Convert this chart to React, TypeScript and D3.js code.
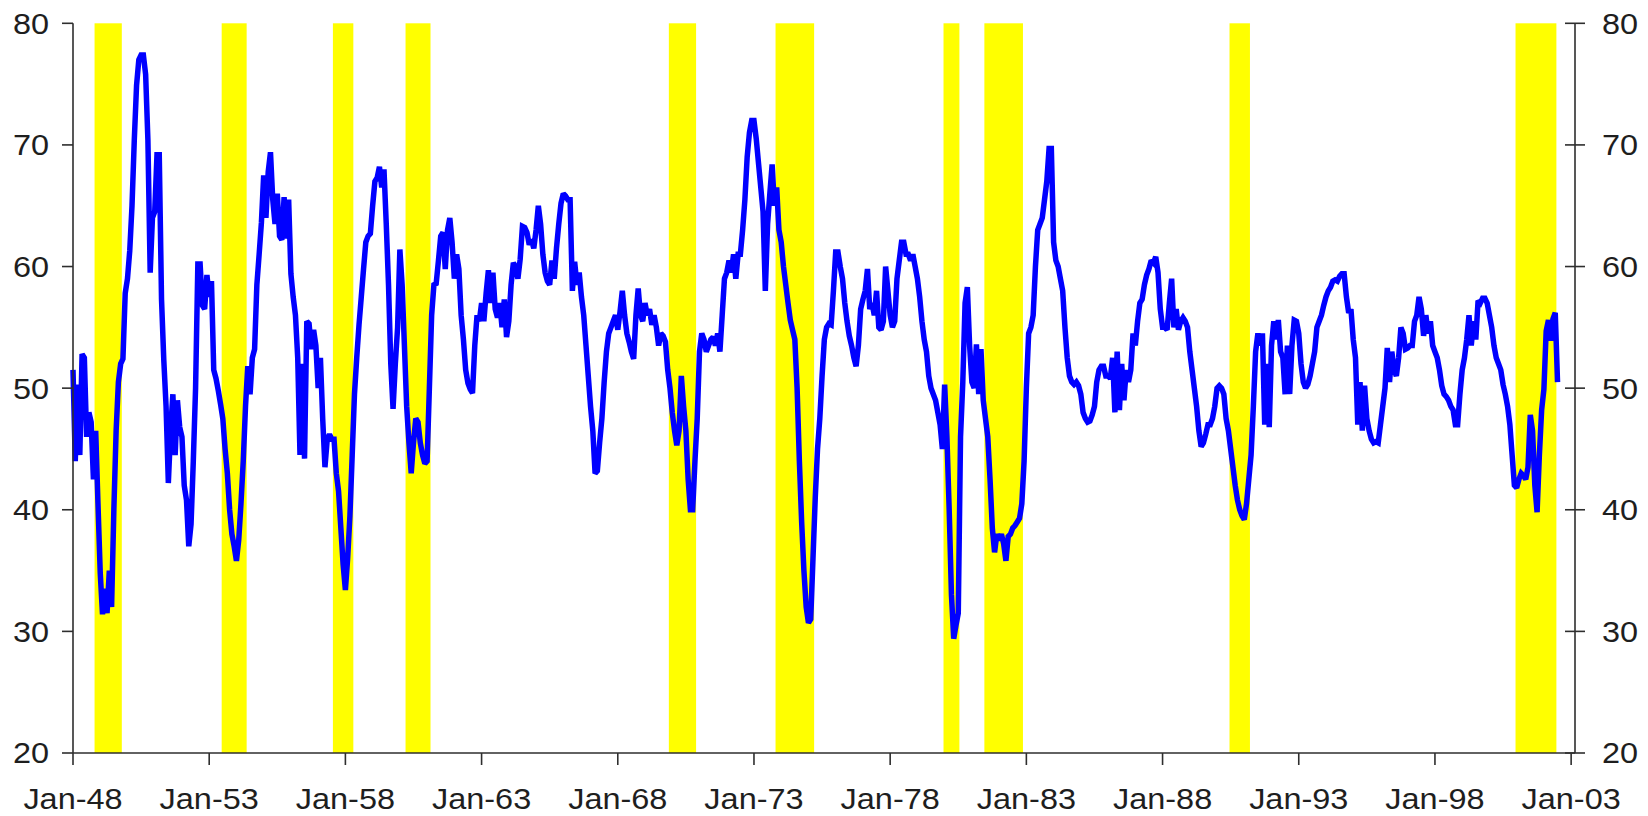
import React from "react";
import * as d3 from "d3";

const START_YEAR = 1948;

// Monthly index values (Jan of first year onward)
const pmi1948to1957 = [
  51.5, 44.0, 50.3, 44.5, 52.8, 52.5, 46.0, 48.0, 47.2, 42.5, 46.5, 40.5,
  34.8, 31.4, 33.5, 31.5, 35.0, 32.0, 40.0, 46.5, 50.5, 52.0, 52.4, 57.8,
  59.0, 61.3, 65.0, 70.4, 74.9, 77.0, 77.4, 77.4, 75.8, 70.4, 59.5, 64.0,
  64.5, 69.2, 69.2, 57.3, 52.3, 48.5, 42.2, 46.5, 49.5, 44.5, 49.0, 46.8,
  46.0, 42.0, 40.8, 37.0, 38.8, 44.0, 50.0, 60.2, 60.2, 56.8, 56.5, 59.3,
  57.5, 58.8, 51.5, 50.8, 49.8, 48.7, 47.5, 45.0, 43.0, 40.0, 38.0, 37.0,
  35.8, 37.5, 40.5, 44.0, 48.5, 51.8, 49.5, 52.5, 53.2, 58.5, 61.0, 63.6,
  67.5, 64.0, 67.8, 69.4, 65.5, 63.5, 66.0, 62.5, 62.2, 65.7, 62.3, 65.5,
  59.4, 57.5, 56.0, 52.5, 44.5, 52.0, 44.2, 55.5, 55.3, 53.2, 54.8, 53.5,
  50.0, 52.5, 47.5, 43.5, 45.8, 46.2, 45.8, 45.8, 43.0, 41.5, 38.5, 35.5,
];
const pmi1958to1967 = [
  33.4, 36.0, 39.5, 44.5, 49.5, 52.5, 55.2, 57.5, 59.8, 62.0, 62.5, 62.7,
  65.0, 67.0, 67.3, 68.2, 66.5, 68.0, 63.5, 58.5, 52.0, 48.3, 52.0, 55.0,
  61.4, 58.5, 53.5, 48.5, 45.5, 43.0, 45.5, 47.5, 47.2, 45.5, 44.5, 43.8,
  44.0, 50.0, 56.0, 58.5, 58.6, 60.5, 62.5, 62.8, 59.8, 63.0, 64.0, 62.0,
  59.0, 61.0, 59.8, 56.0, 54.0, 51.5, 50.4, 49.9, 49.6, 53.5, 56.0, 55.5,
  57.0, 55.5, 57.8, 59.7, 57.0, 59.5, 56.5, 55.8, 57.0, 55.0, 57.3, 54.2,
  55.5, 58.5, 60.3, 60.0, 59.0, 60.6, 63.3, 63.2, 62.8, 61.8, 62.2, 61.5,
  63.0, 65.0, 63.5, 61.0, 59.5, 58.8, 58.5, 60.5, 59.0, 61.5, 63.5, 65.2,
  66.0, 65.8, 65.5, 65.5, 58.0, 60.4, 58.5, 59.5, 57.5, 56.0, 53.5, 51.0,
  48.5, 46.5, 43.0, 43.2, 45.5, 47.5, 50.5, 53.0, 54.5, 55.0, 55.5, 56.0,
];
const pmi1968to1977 = [
  54.8, 56.3, 58.0, 56.0, 54.5, 53.8, 53.0, 52.4, 56.0, 58.2, 56.0, 55.5,
  57.0, 56.0, 56.5, 55.2, 56.0, 55.0, 53.5, 54.5, 54.3, 53.8, 51.5, 50.0,
  48.0, 46.5, 45.3, 46.5, 51.0, 48.5, 46.5, 42.5, 40.0, 40.0, 44.0, 47.5,
  53.0, 54.5, 54.0, 53.0, 53.5, 54.0, 54.2, 53.5, 54.5, 53.0, 56.0, 59.0,
  59.5, 60.5, 59.5, 61.0, 59.0, 61.0, 61.0, 63.0, 65.5, 69.0, 71.0, 72.0,
  72.0, 70.5, 68.5, 66.5, 64.5, 58.0, 63.5, 66.0, 68.4, 65.0, 66.5, 63.0,
  62.0, 60.0, 58.5, 57.0, 55.6, 54.8, 54.0, 50.0, 44.0, 39.0, 35.0, 32.0,
  30.7, 31.0, 36.0, 41.0, 45.0, 47.5, 51.0, 54.0, 55.0, 55.3, 55.2, 58.0,
  61.2, 61.2, 60.0, 59.0, 57.0, 55.5, 54.3, 53.5, 52.5, 51.8, 53.5, 56.5,
  57.3, 58.0, 59.8, 56.5, 57.0, 56.0, 58.0, 55.0, 54.8, 55.5, 60.0, 58.0,
];
const pmi1978to1987 = [
  56.0, 55.0, 55.5, 59.0, 60.5, 62.0, 62.0, 61.0, 61.0, 60.5, 61.0, 60.0,
  59.0, 57.5, 55.5, 54.0, 53.0, 51.0, 50.0, 49.5, 49.0, 48.0, 47.0, 45.0,
  50.3, 46.0, 40.0, 33.0, 29.4, 30.5, 31.5, 46.0, 50.5, 57.0, 58.3, 53.5,
  50.5, 50.0, 53.6, 49.5, 53.2, 49.0, 47.5, 46.0, 42.5, 38.5, 36.5, 38.0,
  37.5, 38.0, 37.2, 35.8, 37.8, 38.0, 38.5, 38.7, 39.0, 39.3, 40.5, 44.0,
  50.0, 54.5, 55.0, 56.0, 60.0, 63.0, 63.5, 64.0, 65.5, 67.0, 69.7, 69.7,
  62.0, 60.5, 60.0, 59.0, 58.0, 55.0, 52.5, 51.0, 50.5, 50.3, 50.5, 50.2,
  49.5, 48.0, 47.5, 47.2, 47.3, 47.8, 48.5, 50.5, 51.5, 51.8, 51.8, 51.0,
  51.0, 50.8, 52.5, 48.0, 53.0, 48.2, 52.0, 49.0, 51.5, 50.5, 51.5, 54.5,
  53.5, 55.5, 57.0, 57.3, 58.5, 59.3, 59.8, 60.5, 60.3, 60.8, 59.5, 56.5,
];
const pmi1988to1997 = [
  55.0, 55.0, 54.8, 57.0, 59.0, 55.0, 56.5, 54.8, 55.5, 55.8, 55.5, 55.0,
  53.0, 51.5, 50.0, 48.5, 46.5, 45.2, 45.5, 46.2, 47.0, 47.0, 47.5, 48.5,
  50.0, 50.2, 50.0, 49.5, 47.5, 46.5, 45.0, 43.5, 42.0, 40.8, 40.0, 39.5,
  39.2, 40.5, 42.5, 44.5, 48.5, 53.0, 54.5, 53.5, 54.5, 47.0, 52.0, 46.8,
  53.5, 55.5, 54.0, 55.6, 53.0, 52.5, 49.5, 53.5, 49.5, 53.5, 55.6, 55.5,
  54.5, 52.0, 50.5, 50.0, 50.3, 51.0, 52.0, 53.0, 55.0, 55.5, 56.0, 56.8,
  57.5, 58.0, 58.3, 58.8, 58.9, 58.8, 59.2, 59.4, 59.4, 57.5, 56.2, 56.5,
  54.0, 52.5, 47.0, 50.5, 46.5, 50.2, 47.5, 46.5, 45.8, 45.5, 45.6, 45.5,
  47.0, 48.5, 50.0, 53.3, 50.5, 53.0, 51.5, 51.0, 52.5, 55.0, 54.5, 53.2,
  53.3, 53.5, 53.5, 55.5, 56.0, 57.5, 56.5, 54.3, 56.0, 54.5, 55.5, 53.5,
];
const pmi1998to2002 = [
  53.0, 52.5, 51.5, 50.2, 49.5, 49.3, 49.0, 48.5, 48.2, 47.0, 47.0, 49.5,
  51.5, 52.5, 54.0, 56.0, 53.5, 55.5, 54.0, 57.2, 57.0, 57.4, 57.4, 57.0,
  56.0, 55.0, 53.5, 52.5, 52.0, 51.5, 50.3, 49.5, 48.5, 47.0, 44.5, 42.0,
  41.8, 42.5, 43.0, 42.8, 42.5, 43.5, 47.8, 46.5, 42.0, 39.8, 44.5, 48.2,
  49.9, 54.7, 55.6, 53.9, 55.7, 56.2, 50.5,
];

const yTicks = [20, 30, 40, 50, 60, 70, 80];
const xTickYears = [1948, 1953, 1958, 1963, 1968, 1973, 1978, 1983, 1988, 1993, 1998, 2003];
const recessionStarts = ["1948-11", "1953-07", "1957-08", "1960-04", "1969-12", "1973-11", "1980-01", "1981-07", "1990-07", "2001-01"];
const recessionEnds = ["1949-10", "1954-05", "1958-04", "1961-02", "1970-11", "1975-03", "1980-07", "1982-11", "1991-03", "2002-06"];

function monthIndex(s: string): number {
  const [yy, mm] = s.split("-").map(Number);
  return (yy - START_YEAR) * 12 + (mm - 1);
}

const FONT = "'Liberation Sans', Arial, Helvetica, sans-serif";
const TEXT = "#1e1e1e";
const AXIS = "#2e2e2e";
const SX = 1.12;

function Label({ x, y, anchor, children }: { x: number; y: number; anchor: string; children: string }) {
  return (
    <text
      transform={`translate(${x},${y}) scale(${SX},1)`}
      textAnchor={anchor}
      fontFamily={FONT}
      fontSize={29}
      fill={TEXT}
    >
      {children}
    </text>
  );
}

export default function App() {
  const W = 1648;
  const H = 816;
  const left = 73;
  const right = 1575;
  const top = 23.3;
  const bottom = 753;

  const values = [
    ...pmi1948to1957,
    ...pmi1958to1967,
    ...pmi1968to1977,
    ...pmi1978to1987,
    ...pmi1988to1997,
    ...pmi1998to2002,
  ];

  const x = d3.scaleLinear().domain([0, 661.7]).range([left, right]);
  const y = d3.scaleLinear().domain([20, 80]).range([bottom, top]);

  const line = d3
    .line<number>()
    .x((_, i) => x(i))
    .y((d) => y(d));

  const bands = recessionStarts.map((s, i) => ({
    x0: x(monthIndex(s) - 0.5),
    x1: x(monthIndex(recessionEnds[i]) + 0.5),
  }));

  const fmtYear = (yr: number) => `Jan-${String(yr % 100).padStart(2, "0")}`;

  return (
    <svg
      width={W}
      height={H}
      style={{ position: "absolute", left: 0, top: 0, background: "#fff" }}
    >
      <rect x={0} y={0} width={W} height={H} fill="#fff" />
      {bands.map((b, i) => (
        <rect key={i} x={b.x0} y={y(80)} width={b.x1 - b.x0} height={y(20) - y(80)} fill="#FFFF00" />
      ))}
      <path
        d={line(values) || ""}
        fill="none"
        stroke="#0000FF"
        strokeWidth={5.5}
        strokeLinejoin="miter"
        strokeMiterlimit={2}
      />
      {/* axes */}
      <line x1={left} x2={left} y1={y(80)} y2={y(20)} stroke={AXIS} strokeWidth={1.6} />
      <line x1={right} x2={right} y1={y(80)} y2={y(20)} stroke={AXIS} strokeWidth={1.6} />
      <line x1={left} x2={right} y1={y(20)} y2={y(20)} stroke={AXIS} strokeWidth={1.6} />
      {yTicks.map((t) => (
        <g key={`yl${t}`}>
          <line x1={left - 11} x2={left} y1={y(t)} y2={y(t)} stroke={AXIS} strokeWidth={1.6} />
          <Label x={49} y={y(t) + 10.4} anchor="end">{String(t)}</Label>
          <line x1={right - 10} x2={right + 10} y1={y(t)} y2={y(t)} stroke={AXIS} strokeWidth={1.6} />
          <Label x={1602} y={y(t) + 10.4} anchor="start">{String(t)}</Label>
        </g>
      ))}
      {xTickYears.map((yr) => {
        const xx = x((yr - START_YEAR) * 12);
        return (
          <g key={`xt${yr}`}>
            <line x1={xx} x2={xx} y1={y(20)} y2={y(20) + 12} stroke={AXIS} strokeWidth={1.6} />
            <Label x={xx} y={809} anchor="middle">{fmtYear(yr)}</Label>
          </g>
        );
      })}
    </svg>
  );
}
